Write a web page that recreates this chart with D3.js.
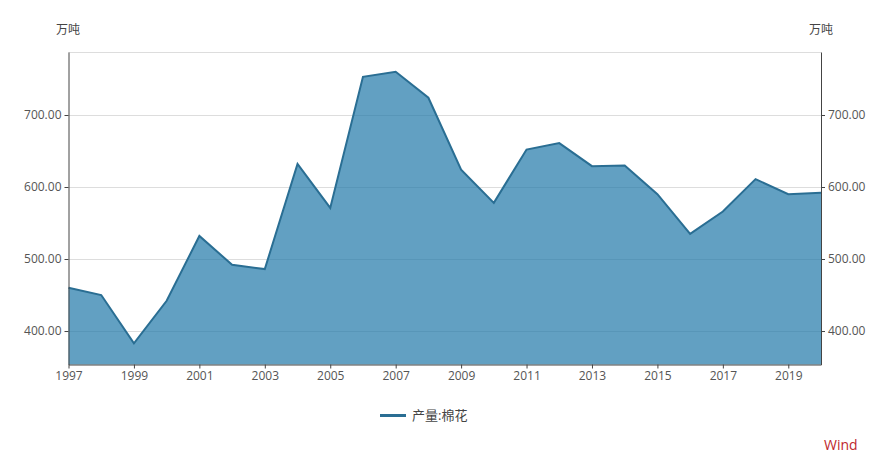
<!DOCTYPE html>
<meta charset="utf-8">
<html>
  <style>
    body, html{ margin: 0; background: #fff;}
    text{ font-family: "Open Sans", "Noto Sans CJK SC", sans-serif; }
    .axis text{ fill: #555; font-size: 12px; }
    .axis path, .axis line{ stroke: #444; }
    .grid line{ stroke: #ddd; }
  </style>
  <body>
    <svg></svg>
    <script src="https://cdn.jsdelivr.net/npm/d3@7"></script>
    <script>
var years = d3.range(1997, 2021)
var cotton = [460, 450, 383, 442, 532, 492, 486, 632, 571, 753, 760, 724,
  624, 578, 652, 661, 629, 630, 590, 535, 566, 611, 590, 592]
var yTicks = [400, 500, 600, 700]
var xTicks = d3.range(1997, 2020, 2)
var unit = '万吨'
var seriesName = '产量:棉花'

var w = 889, h = 464
  , m = {left: 68.5, right: 68, top: 52, bottom: 99.5}
  , svg = d3.select('svg').attr('width', w).attr('height', h)

var x = d3.scaleLinear().domain([1997, 2020]).range([m.left, w - m.right])
  , y = d3.scaleLinear().domain([353.5, 787.5]).range([h - m.bottom, m.top])

// grid
svg.append('g').attr('class', 'grid')
  .selectAll('line').data(yTicks.concat([787.5])).enter().append('line')
  .attr('x1', m.left).attr('x2', w - m.right)
  .attr('y1', function(d){ return Math.round(y(d)) + 0.5 })
  .attr('y2', function(d){ return Math.round(y(d)) + 0.5 })

var data = years.map(function(d, i){ return {year: d, v: cotton[i]} })

svg.append('path').datum(data)
  .attr('fill', '#1f77a8').attr('fill-opacity', 0.7)
  .attr('d', d3.area().x(function(d){ return x(d.year) })
    .y0(y(353.5)).y1(function(d){ return y(d.v) }))

svg.append('path').datum(data)
  .attr('fill', 'none').attr('stroke', '#2a6e93').attr('stroke-width', 2)
  .attr('d', d3.line().x(function(d){ return x(d.year) }).y(function(d){ return y(d.v) }))

var fmt = d3.format('.2f')
svg.append('g').attr('class', 'axis')
  .attr('transform', 'translate(' + m.left + ',0)')
  .call(d3.axisLeft(y).tickValues(yTicks).tickFormat(fmt).tickSize(4).tickSizeOuter(0))
svg.append('g').attr('class', 'axis')
  .attr('transform', 'translate(' + (w - m.right) + ',0)')
  .call(d3.axisRight(y).tickValues(yTicks).tickFormat(fmt).tickSize(4).tickSizeOuter(0))
svg.append('g').attr('class', 'axis')
  .attr('transform', 'translate(0,' + (h - m.bottom) + ')')
  .call(d3.axisBottom(x).tickValues(xTicks).tickFormat(d3.format('d')).tickSize(4).tickSizeOuter(0))

svg.selectAll('.axis .domain').attr('stroke', '#333')

svg.append('text').attr('x', 56).attr('y', 34).attr('fill', '#444')
  .style('font-size', '12px').text(unit)
svg.append('text').attr('x', 809).attr('y', 34).attr('fill', '#444')
  .style('font-size', '12px').text(unit)

// legend
svg.append('line').attr('x1', 380).attr('x2', 406).attr('y1', 415.5).attr('y2', 415.5)
  .attr('stroke', '#2a6e93').attr('stroke-width', 3)
svg.append('text').attr('x', 412).attr('y', 420).attr('fill', '#444')
  .style('font-size', '13px').text(seriesName)

svg.append('text').attr('x', 824).attr('y', 450).attr('fill', '#c0272d')
  .style('font-size', '14px').text('Wind')
    </script>
  </body>
</html>
